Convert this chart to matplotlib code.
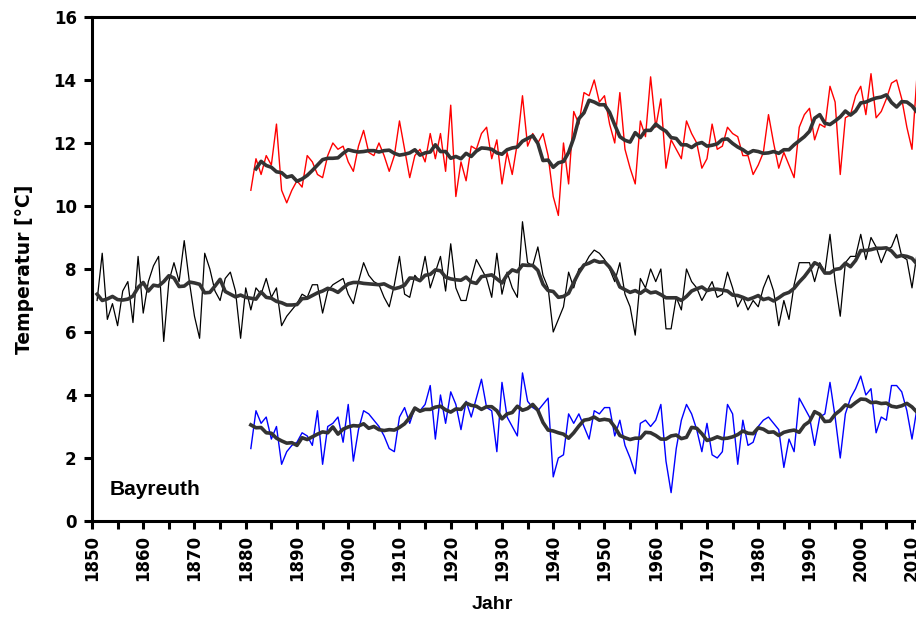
import numpy as np
import pandas as pd
import matplotlib
matplotlib.use("Agg")
import matplotlib.pyplot as plt

# Jahresmittel Bayreuth: Maximum (rot), Mittel (schwarz), Minimum (blau)
start_mean = 1851
t_mean = [
    7.0, 8.5, 6.4, 6.9, 6.2, 7.3, 7.6, 6.3, 8.4, 6.6,        # 1851-1860
    7.6, 8.1, 8.4, 5.7, 7.6, 8.2, 7.6, 8.9, 7.6, 6.5,        # 1861-1870
    5.8, 8.5, 8.0, 7.3, 7.0, 7.7, 7.9, 7.3, 5.8, 7.4,        # 1871-1880
    6.7, 7.4, 7.2, 7.7, 7.1, 7.4, 6.2, 6.5, 6.7, 6.9,        # 1881-1890
    7.2, 7.1, 7.5, 7.5, 6.6, 7.3, 7.5, 7.6, 7.7, 7.2,        # 1891-1900
    6.9, 7.6, 8.2, 7.8, 7.6, 7.5, 7.1, 6.8, 7.5, 8.4,        # 1901-1910
    7.2, 7.1, 7.8, 7.6, 8.4, 7.4, 7.9, 8.4, 7.3, 8.8,        # 1911-1920
    7.4, 7.0, 7.0, 7.7, 8.3, 8.0, 7.7, 7.1, 8.5, 7.2,        # 1921-1930
    7.9, 7.4, 7.1, 9.5, 8.2, 8.1, 8.7, 7.8, 7.4, 6.0,        # 1931-1940
    6.4, 6.8, 7.9, 7.4, 8.0, 8.1, 8.4, 8.6, 8.5, 8.3,        # 1941-1950
    8.0, 7.6, 8.2, 7.2, 6.8, 5.9, 7.7, 7.4, 8.0, 7.6,        # 1951-1960
    8.0, 6.1, 6.1, 7.1, 6.7, 8.0, 7.6, 7.4, 7.0, 7.3,        # 1961-1970
    7.6, 7.1, 7.2, 7.9, 7.4, 6.8, 7.1, 6.7, 7.0, 6.8,        # 1971-1980
    7.4, 7.8, 7.3, 6.2, 7.0, 6.4, 7.5, 8.2, 8.2, 8.2,        # 1981-1990
    7.6, 8.2, 7.9, 9.1, 7.6, 6.5, 8.2, 8.4, 8.4, 9.1,        # 1991-2000
    8.3, 9.0, 8.7, 8.2, 8.6, 8.7, 9.1, 8.4, 8.3, 7.4,        # 2001-2010
    8.5,                                                     # 2011
]

start_ext = 1881
t_max = [
    10.5, 11.5, 11.0, 11.6, 11.3, 12.6, 10.5, 10.1, 10.5, 10.8,  # 1881-1890
    10.6, 11.6, 11.4, 11.0, 10.9, 11.6, 12.0, 11.8, 11.9, 11.4,  # 1891-1900
    11.1, 11.9, 12.4, 11.7, 11.6, 12.0, 11.6, 11.1, 11.6, 12.7,  # 1901-1910
    11.8, 10.9, 11.6, 11.8, 11.4, 12.3, 11.5, 12.3, 11.1, 13.2,  # 1911-1920
    10.3, 11.4, 10.8, 11.9, 11.8, 12.3, 12.5, 11.5, 12.1, 10.7,  # 1921-1930
    11.7, 11.0, 12.0, 13.5, 11.9, 12.3, 12.0, 12.3, 11.6, 10.3,  # 1931-1940
    9.7, 12.0, 10.7, 13.0, 12.6, 13.6, 13.5, 14.0, 13.3, 13.5,   # 1941-1950
    12.6, 12.0, 13.6, 11.8, 11.2, 10.7, 12.7, 12.2, 14.1, 12.5,  # 1951-1960
    13.4, 11.2, 12.1, 11.8, 11.5, 12.7, 12.3, 12.0, 11.2, 11.5,  # 1961-1970
    12.6, 11.8, 11.9, 12.5, 12.3, 12.2, 11.6, 11.6, 11.0, 11.3,  # 1971-1980
    11.7, 12.9, 12.0, 11.2, 11.7, 11.3, 10.9, 12.5, 12.9, 13.1,  # 1981-1990
    12.1, 12.6, 12.5, 13.8, 13.3, 11.0, 12.8, 12.9, 13.5, 13.8,  # 1991-2000
    12.9, 14.2, 12.8, 13.0, 13.4, 13.9, 14.0, 13.4, 12.5, 11.8,  # 2001-2010
    14.2,                                                        # 2011
]

t_min = [
    2.3, 3.5, 3.1, 3.3, 2.6, 3.0, 1.8, 2.2, 2.4, 2.5,   # 1881-1890
    2.8, 2.7, 2.4, 3.5, 1.8, 3.0, 3.1, 3.3, 2.5, 3.7,   # 1891-1900
    1.9, 2.9, 3.5, 3.4, 3.2, 3.0, 2.7, 2.3, 2.2, 3.3,   # 1901-1910
    3.6, 3.1, 3.6, 3.5, 3.7, 4.3, 2.6, 4.0, 3.1, 4.1,   # 1911-1920
    3.7, 2.9, 3.8, 3.3, 3.9, 4.5, 3.6, 3.5, 2.2, 4.4,   # 1921-1930
    3.3, 3.0, 2.7, 4.7, 3.8, 3.6, 3.5, 3.7, 3.9, 1.4,   # 1931-1940
    2.0, 2.1, 3.4, 3.1, 3.4, 3.0, 2.6, 3.5, 3.4, 3.6,   # 1941-1950
    3.6, 2.7, 3.2, 2.4, 2.0, 1.5, 3.1, 3.2, 3.0, 3.2,   # 1951-1960
    3.7, 1.9, 0.9, 2.3, 3.2, 3.7, 3.4, 2.9, 2.2, 3.1,   # 1961-1970
    2.1, 2.0, 2.2, 3.7, 3.4, 1.8, 3.2, 2.4, 2.5, 3.0,   # 1971-1980
    3.2, 3.3, 3.1, 2.9, 1.7, 2.6, 2.2, 3.9, 3.6, 3.3,   # 1981-1990
    2.4, 3.3, 3.4, 4.4, 3.3, 2.0, 3.4, 3.9, 4.2, 4.6,   # 1991-2000
    4.0, 4.2, 2.8, 3.3, 3.2, 4.3, 4.3, 4.1, 3.5, 2.6,   # 2001-2010
    3.6,                                                # 2011
]

SMOOTH_WINDOW = 7


def smooth(values):
    s = pd.Series(values)
    return s.rolling(SMOOTH_WINDOW, center=True, min_periods=1).mean().to_numpy()


def main():
    plt.rcParams['font.family'] = ['DejaVu Sans']
    plt.rcParams['font.weight'] = 'bold'

    fig = plt.figure(figsize=(9.16, 6.2), dpi=100)
    ax = fig.add_axes([0.1004, 0.1597, 0.9232, 0.8129])

    years_mean = np.arange(start_mean, start_mean + len(t_mean))
    years_ext = np.arange(start_ext, start_ext + len(t_max))

    ax.plot(years_ext, t_max, color='#ff0000', lw=1.0)
    ax.plot(years_mean, t_mean, color='black', lw=0.9)
    ax.plot(years_ext, t_min, color='#0000ff', lw=1.0)

    smooth_color = '#333333'
    ax.plot(years_ext[1:], smooth(t_max)[1:], color=smooth_color, lw=2.6)
    ax.plot(years_mean, smooth(t_mean), color=smooth_color, lw=2.6)
    ax.plot(years_ext, smooth(t_min), color=smooth_color, lw=2.6)

    ax.set_xlim(1850, 2015)
    ax.set_ylim(0, 16)
    ax.set_yticks(np.arange(0, 17, 2))
    ax.set_xticks(np.arange(1850, 2016, 5))
    ax.set_xticklabels([str(y) if y % 10 == 0 else '' for y in range(1850, 2016, 5)],
                       rotation=90)

    for side in ['left', 'bottom', 'top', 'right']:
        ax.spines[side].set_linewidth(2.2)
    ax.tick_params(axis='both', direction='out', length=6, width=2.2,
                   labelsize=12, pad=4)
    ax.tick_params(axis='y', pad=5)
    for lab in ax.get_xticklabels() + ax.get_yticklabels():
        lab.set_fontweight('bold')

    ax.set_ylabel('Temperatur [°C]', fontsize=13.5, fontweight='bold')
    ax.yaxis.set_label_coords(-0.068, 0.5)
    ax.set_xlabel('Jahr', fontsize=14, fontweight='bold',
                  family=['Liberation Sans', 'DejaVu Sans'])
    ax.xaxis.set_label_coords(0.4735, -0.148)

    ax.text(1853.5, 1.0, 'Bayreuth', fontsize=15, fontweight='bold',
            family=['Liberation Sans', 'DejaVu Sans'], va='center', ha='left')

    fig.savefig('out.png', dpi=100)


if __name__ == "__main__":
    main()
